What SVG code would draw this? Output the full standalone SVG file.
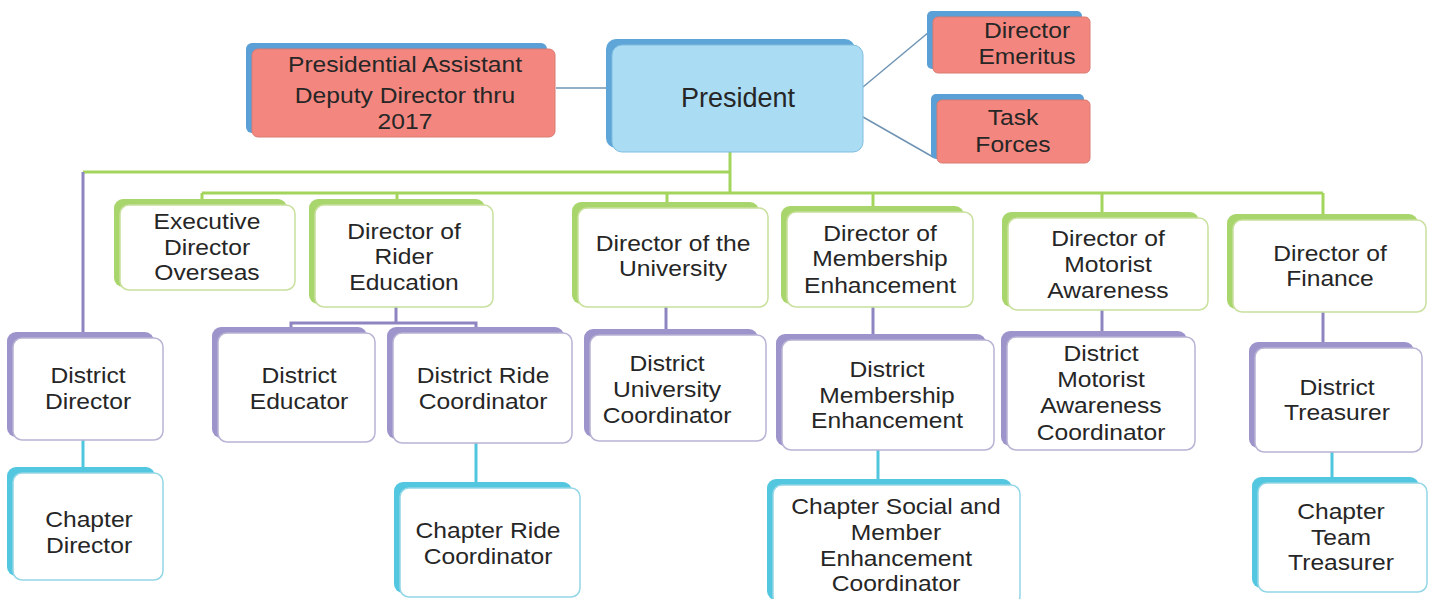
<svg xmlns="http://www.w3.org/2000/svg" width="1434" height="599" viewBox="0 0 1434 599">
<style>
.bg{fill:#ffffff}
.t{font-family:"Liberation Sans",Arial,sans-serif;font-size:22px;fill:#262626;text-anchor:middle}
.tp{font-family:"Liberation Sans",Arial,sans-serif;font-size:27px;fill:#262626;text-anchor:middle}
.gb{fill:#a9d66c}
.gf{fill:#ffffff;stroke:#c9e09e;stroke-width:1.5}
.pb{fill:#9c94ca}
.pf{fill:#ffffff;stroke:#b9b3d4;stroke-width:1.5}
.cb{fill:#52c7df}
.cf{fill:#ffffff;stroke:#93d6e6;stroke-width:1.5}
.kb{fill:#5a9fd6}
.kf{fill:#f3877f;stroke:#d97a73;stroke-width:1}
.bb{fill:#5ea6d8}
.bf{fill:#aadcf3;stroke:#80bde0;stroke-width:1}
.lg{stroke:#a3d45c;stroke-width:3;fill:none}
.lp{stroke:#8d85c0;stroke-width:3;fill:none}
.lc{stroke:#4fc6de;stroke-width:3;fill:none}
.lb{stroke:#6f94b3;stroke-width:1.5;fill:none}
</style>
<rect class="bg" x="0" y="0" width="1434" height="599"/>

<g id="connectors">
  <line class="lb" x1="556" y1="88" x2="612" y2="88"/>
  <line class="lb" x1="863" y1="87" x2="929" y2="32"/>
  <line class="lb" x1="863" y1="117" x2="933" y2="157"/>
  <polyline class="lg" points="730,152 730,193"/>
  <polyline class="lg" points="83,172 730,172"/>
  <polyline class="lg" points="202,193 1323,193"/>
  <line class="lg" x1="202" y1="193" x2="202" y2="201"/>
  <line class="lg" x1="397" y1="193" x2="397" y2="201"/>
  <line class="lg" x1="667" y1="193" x2="667" y2="204"/>
  <line class="lg" x1="873" y1="193" x2="873" y2="208"/>
  <line class="lg" x1="1102" y1="193" x2="1102" y2="214"/>
  <line class="lg" x1="1323" y1="193" x2="1323" y2="216"/>
  <line class="lp" x1="83" y1="172" x2="83" y2="334"/>
  <polyline class="lp" points="396,307 396,323"/>
  <polyline class="lp" points="291,330 291,323 476,323 476,330"/>
  <line class="lp" x1="666" y1="307" x2="666" y2="331"/>
  <line class="lp" x1="873" y1="307" x2="873" y2="336"/>
  <line class="lp" x1="1102" y1="310" x2="1102" y2="333"/>
  <line class="lp" x1="1323" y1="312" x2="1323" y2="344"/>
  <line class="lc" x1="83" y1="440" x2="83" y2="470"/>
  <line class="lc" x1="476" y1="443" x2="476" y2="484"/>
  <line class="lc" x1="878" y1="450" x2="878" y2="481"/>
  <line class="lc" x1="1332" y1="452" x2="1332" y2="479"/>
</g>

<g id="president">
  <rect class="bb" x="606" y="39" width="249" height="109" rx="10"/>
  <rect class="bf" x="612" y="45" width="251" height="107" rx="10"/>
  <text class="tp" x="738" y="107">President</text>
</g>

<g id="presidential-assistant">
  <rect class="kb" x="246" y="43" width="301" height="90" rx="6"/>
  <rect class="kf" x="252" y="49" width="303" height="88" rx="6"/>
  <text class="t" transform="translate(405 0) scale(1.12 1)"><tspan x="0" y="72">Presidential Assistant</tspan><tspan x="0" y="103">Deputy Director thru</tspan><tspan x="0" y="129">2017</tspan></text>
</g>

<g id="director-emeritus">
  <rect class="kb" x="927" y="11" width="155" height="58" rx="5"/>
  <rect class="kf" x="933" y="17" width="157" height="56" rx="5"/>
  <text class="t" transform="translate(1027 0) scale(1.12 1)"><tspan x="0" y="38">Director</tspan><tspan x="0" y="64">Emeritus</tspan></text>
</g>

<g id="task-forces">
  <rect class="kb" x="931" y="94" width="153" height="65" rx="5"/>
  <rect class="kf" x="937" y="100" width="153" height="63" rx="5"/>
  <text class="t" transform="translate(1013 0) scale(1.12 1)"><tspan x="0" y="125">Task</tspan><tspan x="0" y="152">Forces</tspan></text>
</g>

<g id="executive-director-overseas">
  <rect class="gb" x="114" y="199" width="173" height="88" rx="9"/>
  <rect class="gf" x="120" y="205" width="175" height="85" rx="9"/>
  <text class="t" transform="translate(207 0) scale(1.12 1)"><tspan x="0" y="229">Executive</tspan><tspan x="0" y="255">Director</tspan><tspan x="0" y="280">Overseas</tspan></text>
</g>

<g id="director-rider-education">
  <rect class="gb" x="309" y="199" width="176" height="105" rx="9"/>
  <rect class="gf" x="315" y="205" width="178" height="102" rx="9"/>
  <text class="t" transform="translate(404 0) scale(1.12 1)"><tspan x="0" y="239">Director of</tspan><tspan x="0" y="264">Rider</tspan><tspan x="0" y="290">Education</tspan></text>
</g>

<g id="director-university">
  <rect class="gb" x="572" y="202" width="187" height="102" rx="9"/>
  <rect class="gf" x="578" y="208" width="190" height="99" rx="9"/>
  <text class="t" transform="translate(673 0) scale(1.12 1)"><tspan x="0" y="251">Director of the</tspan><tspan x="0" y="276">University</tspan></text>
</g>

<g id="director-membership">
  <rect class="gb" x="781" y="206" width="183" height="98" rx="9"/>
  <rect class="gf" x="787" y="212" width="186" height="95" rx="9"/>
  <text class="t" transform="translate(880 0) scale(1.12 1)"><tspan x="0" y="241">Director of</tspan><tspan x="0" y="266">Membership</tspan><tspan x="0" y="293">Enhancement</tspan></text>
</g>

<g id="director-motorist">
  <rect class="gb" x="1002" y="212" width="197" height="95" rx="9"/>
  <rect class="gf" x="1008" y="218" width="200" height="92" rx="9"/>
  <text class="t" transform="translate(1108 0) scale(1.12 1)"><tspan x="0" y="246">Director of</tspan><tspan x="0" y="272">Motorist</tspan><tspan x="0" y="298">Awareness</tspan></text>
</g>

<g id="director-finance">
  <rect class="gb" x="1227" y="214" width="191" height="95" rx="9"/>
  <rect class="gf" x="1233" y="220" width="193" height="92" rx="9"/>
  <text class="t" transform="translate(1330 0) scale(1.12 1)"><tspan x="0" y="261">Director of</tspan><tspan x="0" y="286">Finance</tspan></text>
</g>

<g id="district-director">
  <rect class="pb" x="7" y="332" width="147" height="105" rx="9"/>
  <rect class="pf" x="13" y="338" width="150" height="102" rx="9"/>
  <text class="t" transform="translate(88 0) scale(1.12 1)"><tspan x="0" y="383">District</tspan><tspan x="0" y="409">Director</tspan></text>
</g>

<g id="district-educator">
  <rect class="pb" x="212" y="327" width="155" height="111" rx="9"/>
  <rect class="pf" x="218" y="333" width="157" height="109" rx="9"/>
  <text class="t" transform="translate(299 0) scale(1.12 1)"><tspan x="0" y="383">District</tspan><tspan x="0" y="409">Educator</tspan></text>
</g>

<g id="district-ride-coordinator">
  <rect class="pb" x="387" y="327" width="177" height="112" rx="9"/>
  <rect class="pf" x="393" y="333" width="179" height="110" rx="9"/>
  <text class="t" transform="translate(483 0) scale(1.12 1)"><tspan x="0" y="383">District Ride</tspan><tspan x="0" y="409">Coordinator</tspan></text>
</g>

<g id="district-university-coordinator">
  <rect class="pb" x="584" y="329" width="174" height="108" rx="9"/>
  <rect class="pf" x="590" y="335" width="176" height="106" rx="9"/>
  <text class="t" transform="translate(667 0) scale(1.12 1)"><tspan x="0" y="371">District</tspan><tspan x="0" y="397">University</tspan><tspan x="0" y="423">Coordinator</tspan></text>
</g>

<g id="district-membership-enhancement">
  <rect class="pb" x="776" y="334" width="210" height="112" rx="9"/>
  <rect class="pf" x="782" y="340" width="212" height="110" rx="9"/>
  <text class="t" transform="translate(887 0) scale(1.12 1)"><tspan x="0" y="377">District</tspan><tspan x="0" y="403">Membership</tspan><tspan x="0" y="428">Enhancement</tspan></text>
</g>

<g id="district-motorist-awareness-coordinator">
  <rect class="pb" x="1001" y="331" width="186" height="115" rx="9"/>
  <rect class="pf" x="1007" y="337" width="188" height="113" rx="9"/>
  <text class="t" transform="translate(1101 0) scale(1.12 1)"><tspan x="0" y="361">District</tspan><tspan x="0" y="387">Motorist</tspan><tspan x="0" y="413">Awareness</tspan><tspan x="0" y="440">Coordinator</tspan></text>
</g>

<g id="district-treasurer">
  <rect class="pb" x="1249" y="342" width="165" height="106" rx="9"/>
  <rect class="pf" x="1255" y="348" width="167" height="104" rx="9"/>
  <text class="t" transform="translate(1337 0) scale(1.12 1)"><tspan x="0" y="395">District</tspan><tspan x="0" y="420">Treasurer</tspan></text>
</g>

<g id="chapter-director">
  <rect class="cb" x="7" y="467" width="148" height="109" rx="9"/>
  <rect class="cf" x="13" y="473" width="150" height="107" rx="9"/>
  <text class="t" transform="translate(89 0) scale(1.12 1)"><tspan x="0" y="527">Chapter</tspan><tspan x="0" y="553">Director</tspan></text>
</g>

<g id="chapter-ride-coordinator">
  <rect class="cb" x="394" y="482" width="178" height="111" rx="9"/>
  <rect class="cf" x="400" y="488" width="180" height="109" rx="9"/>
  <text class="t" transform="translate(488 0) scale(1.12 1)"><tspan x="0" y="538">Chapter Ride</tspan><tspan x="0" y="564">Coordinator</tspan></text>
</g>

<g id="chapter-social-member-enhancement-coordinator">
  <rect class="cb" x="767" y="479" width="245" height="121" rx="9"/>
  <rect class="cf" x="773" y="485" width="247" height="120" rx="9"/>
  <text class="t" transform="translate(896 0) scale(1.12 1)"><tspan x="0" y="514">Chapter Social and</tspan><tspan x="0" y="540">Member</tspan><tspan x="0" y="566">Enhancement</tspan><tspan x="0" y="591">Coordinator</tspan></text>
</g>

<g id="chapter-team-treasurer">
  <rect class="cb" x="1252" y="477" width="167" height="111" rx="9"/>
  <rect class="cf" x="1258" y="483" width="169" height="109" rx="9"/>
  <text class="t" transform="translate(1341 0) scale(1.12 1)"><tspan x="0" y="519">Chapter</tspan><tspan x="0" y="545">Team</tspan><tspan x="0" y="570">Treasurer</tspan></text>
</g>
</svg>
